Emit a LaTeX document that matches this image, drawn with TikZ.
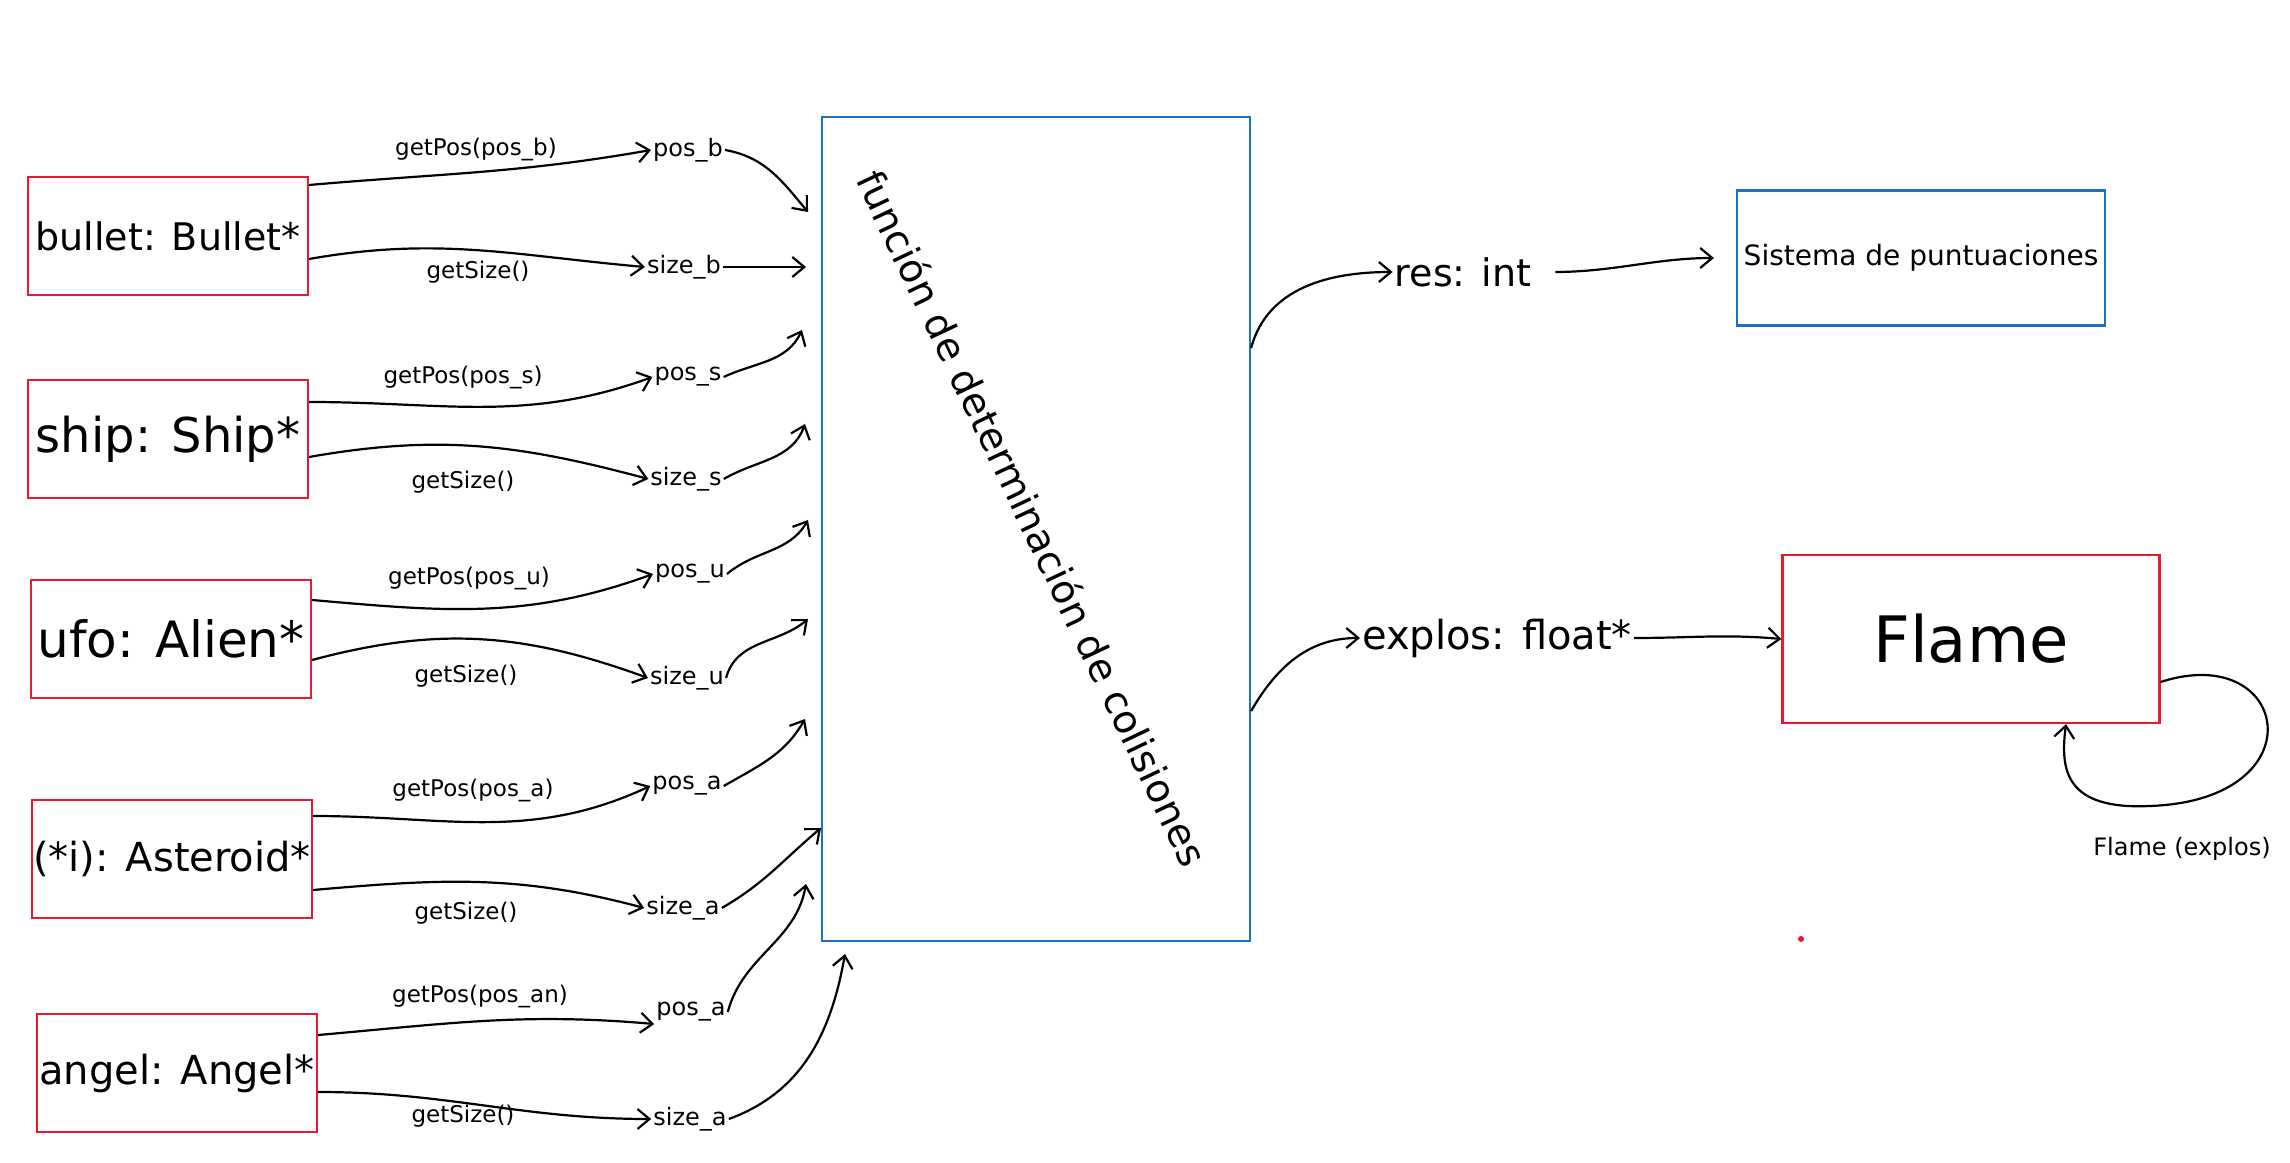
\documentclass[tikz,border=0pt]{standalone}
\usepackage{fontspec}
\setmainfont{DejaVu Sans}
\usetikzlibrary{arrows.meta}
\definecolor{boxred}{HTML}{E61B2F}
\definecolor{boxblue}{HTML}{1A6FC6}
\tikzset{
  redbox/.style={draw=boxred, line width=2.2pt, minimum width=280pt, minimum height=118pt, inner sep=0pt},
  bluebox/.style={draw=boxblue, line width=2.2pt, inner sep=0pt},
  conn/.style={line width=2.2pt, -{Straight Barb[length=12pt,width=20pt,line width=2.2pt]}},
  fnlab/.style={font=\fontsize{23}{27}\selectfont, inner sep=2pt},
  varlab/.style={font=\fontsize{24}{28}\selectfont, inner sep=2pt},
}
\begin{document}
\begin{tikzpicture}[x=1pt,y=1pt]
\useasboundingbox (0,0) rectangle (2290,1162);
\fill[white] (0,0) rectangle (2290,1162);

% left object boxes
\node[redbox, font=\fontsize{38}{44}\selectfont] (bullet) at (168,926) {bullet: Bullet*};
\node[redbox, font=\fontsize{48}{54}\selectfont] (ship) at (168,723) {ship: Ship*};
\node[redbox, font=\fontsize{50}{56}\selectfont] (ufo) at (171,523) {ufo: Alien*};
\node[redbox, font=\fontsize{40}{46}\selectfont] (ast) at (172,303) {(*i): Asteroid*};
\node[redbox, font=\fontsize{40}{46}\selectfont] (angel) at (177,89) {angel: Angel*};

% central function box
\node[bluebox, minimum width=428pt, minimum height=824pt] (fn) at (1036,633) {};
\node[font=\fontsize{39}{44}\selectfont, rotate=-64.6, inner sep=0pt] (fntxt) at (1033,644) {función de determinación de colisiones};

% right boxes
\node[bluebox, minimum width=368pt, minimum height=135pt, font=\fontsize{28}{32}\selectfont] (sis) at (1921,904) {Sistema de puntuaciones};
\node[redbox, minimum width=377pt, minimum height=168pt, font=\fontsize{64}{70}\selectfont] (flame) at (1971,523) {Flame};

% method labels
\node[fnlab] (gpb) at (476,1013) {getPos(pos\_b)};
\node[fnlab] (gsb) at (478,890) {getSize()};
\node[fnlab] (gps) at (463,785) {getPos(pos\_s)};
\node[fnlab] (gss) at (463,680) {getSize()};
\node[fnlab] (gpu) at (469,584) {getPos(pos\_u)};
\node[fnlab] (gsu) at (466,486) {getSize()};
\node[fnlab] (gpa) at (473,372) {getPos(pos\_a)};
\node[fnlab] (gsa) at (466,249) {getSize()};
\node[fnlab] (gpan) at (480,166) {getPos(pos\_an)};
\node[fnlab] (gsan) at (463,46) {getSize()};

% variable labels
\node[varlab] (posb) at (688,1012) {pos\_b};
\node[varlab] (sizeb) at (684,895) {size\_b};
\node[varlab] (poss) at (688,785) {pos\_s};
\node[varlab] (sizes) at (686,683) {size\_s};
\node[varlab] (posu) at (690,588) {pos\_u};
\node[varlab] (sizeu) at (687,484) {size\_u};
\node[varlab] (posa) at (687,376) {pos\_a};
\node[varlab] (sizea) at (683,254) {size\_a};
\node[varlab] (posan) at (691,150) {pos\_a};
\node[varlab] (sizean) at (690,43) {size\_a};

% arrow targets at the function box
\coordinate (t1) at (808,950);
\coordinate (t2) at (806,895);
\coordinate (t3) at (802,832);
\coordinate (t4) at (805,738);
\coordinate (t5) at (808,642);
\coordinate (t6) at (808,543);
\coordinate (t7) at (805,443);
\coordinate (t8) at (821,334);
\coordinate (t9) at (806,278);
\coordinate (t10) at (845,208);

% right labels
\node[font=\fontsize{38}{44}\selectfont, inner sep=2pt] (res) at (1463,890) {res: int};
\node[font=\fontsize{40}{46}\selectfont, inner sep=2pt] (explos) at (1497,524) {explos: float*};
\node[font=\fontsize{24}{28}\selectfont, inner sep=2pt] (flab) at (2182,313) {Flame (explos)};
\fill[boxred] (1801,223) circle (3pt);

% object -> value arrows
\draw[conn] ([yshift=51pt]bullet.east) to[out=5,in=190] (posb.west);
\draw[conn] ([yshift=-23pt]bullet.east) to[out=10,in=175] (sizeb.west);
\draw[conn] ([yshift=37pt]ship.east) to[out=0,in=200] (poss.west);
\draw[conn] ([yshift=-18pt]ship.east) to[out=10,in=165] (sizes.west);
\draw[conn] ([yshift=39pt]ufo.east) to[out=-5,in=200] (posu.west);
\draw[conn] ([yshift=-21pt]ufo.east) to[out=15,in=160] (sizeu.west);
\draw[conn] ([yshift=43pt]ast.east) to[out=0,in=205] (posa.west);
\draw[conn] ([yshift=-31pt]ast.east) to[out=5,in=165] (sizea.west);
\draw[conn] ([yshift=38pt]angel.east) to[out=5,in=175] ([yshift=-12pt]posan.west);
\draw[conn] ([yshift=-19pt]angel.east) to[out=0,in=180] (sizean.west);

% value -> function arrows
\draw[conn] (posb.east) to[out=-10,in=130] (t1);
\draw[conn] (sizeb.east) to[out=0,in=180] (t2);
\draw[conn] (poss.east) to[out=25,in=-115] (t3);
\draw[conn] (sizes.east) to[out=30,in=-110] (t4);
\draw[conn] (posu.east) to[out=40,in=-120] (t5);
\draw[conn] (sizeu.east) to[out=75,in=-140] (t6);
\draw[conn] (posa.east) to[out=30,in=-120] (t7);
\draw[conn] (sizea.east) to[out=30,in=-140] (t8);
\draw[conn] (posan.east) to[out=75,in=-100] (t9);
\draw[conn] (sizean.east) to[out=20,in=-100] (t10);

% function -> outputs
\draw[conn] ([yshift=181pt]fn.east) to[out=75,in=180] (res.west);
\draw[conn, shorten <=22pt, shorten >=22pt] (res.east) to[out=0,in=180] (sis.west);
\draw[conn] ([yshift=-182pt]fn.east) to[out=60,in=180] (explos.west);
\draw[conn] (explos.east) to[out=0,in=175] (flame.west);

% self loop on Flame
\draw[conn] ([yshift=-43pt]flame.east) .. controls (2290,522) and (2320,362) .. (2150,356)
  .. controls (2065,352) and (2060,392) .. ([xshift=95pt]flame.south);
\end{tikzpicture}
\end{document}
